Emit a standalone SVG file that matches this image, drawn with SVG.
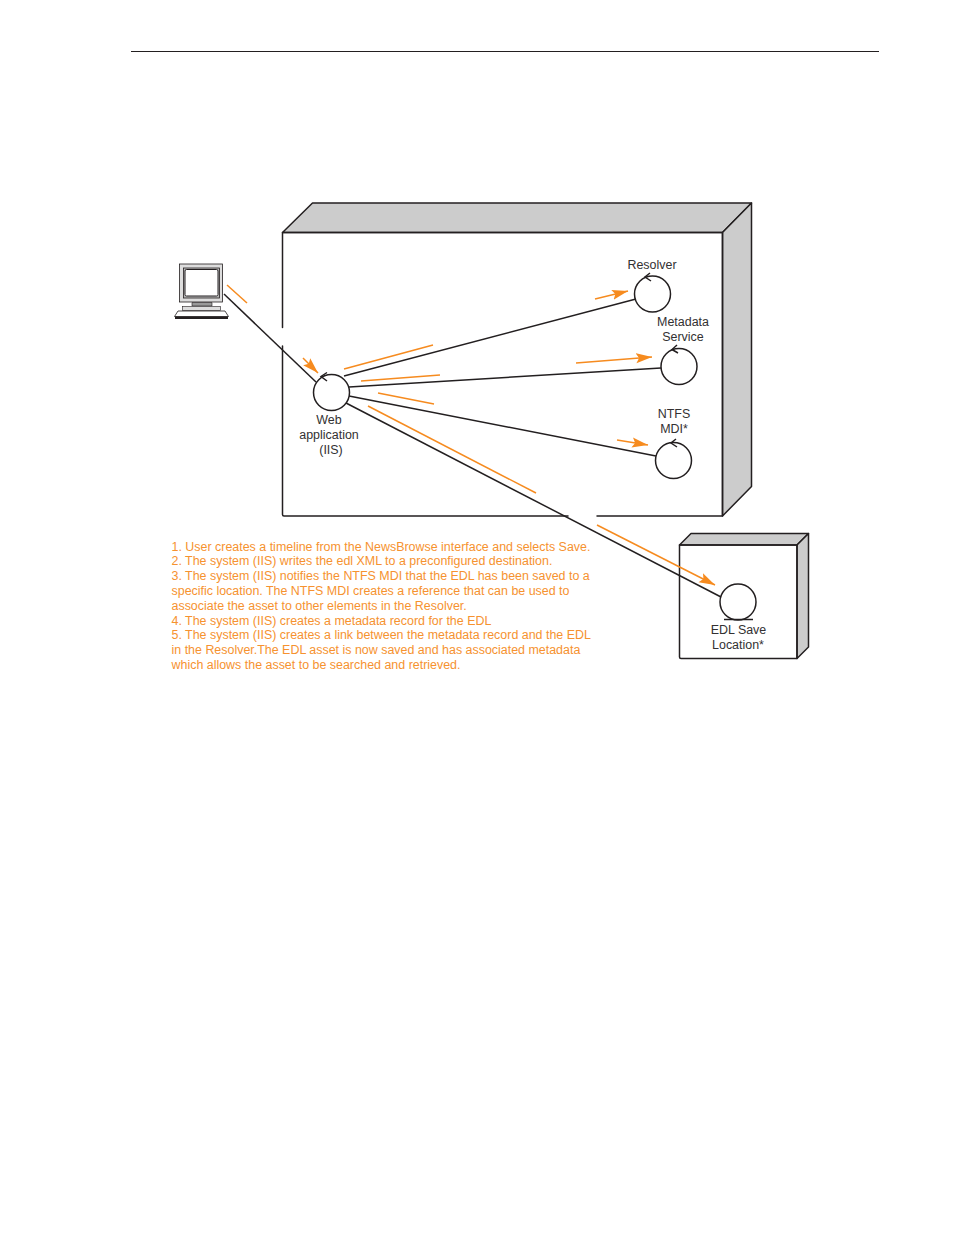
<svg xmlns="http://www.w3.org/2000/svg" width="954" height="1235" viewBox="0 0 954 1235">
<defs>
<marker id="oa" viewBox="0 0 16 11" refX="16" refY="5.500" markerWidth="16" markerHeight="11" markerUnits="userSpaceOnUse" orient="auto"><path d="M0 0.500L16 5.500L0 10.500L3 5.500Z" fill="#f68b1f"/></marker>
</defs>
<style>
text{font-family:"Liberation Sans",Arial,sans-serif;font-size:12.44px}
.l{fill:#333132;text-anchor:middle}
.n{fill:#f6922f}
.b{fill:none;stroke:#231f20;stroke-width:1.5;stroke-linejoin:round;stroke-linecap:round}
.g{fill:#cccccc;stroke:#231f20;stroke-width:1.5;stroke-linejoin:round}
.c{fill:#fff;stroke:#231f20;stroke-width:1.5}
.k{fill:none;stroke:#231f20;stroke-width:1.5}
.o{fill:none;stroke:#f68b1f;stroke-width:1.5}
.a{fill:none;stroke:#f68b1f;stroke-width:1.5;marker-end:url(#oa)}
</style>
<rect width="954" height="1235" fill="#fff"/>
<path d="M131 51.500H879" stroke="#231f20" stroke-width="1" fill="none"/>
<g id="server">
<path class="g" d="M282.500 232.500L312.500 203H751.500L722.500 232.500Z"/>
<path class="g" d="M722.500 232.500L751.500 203V486.500L722.500 516Z"/>
<path class="b" d="M282.500 327.500V232.500H722.500V516H597M568 516H284Q282.500 516 282.500 514.500V346"/>
</g>
<g id="storage">
<path class="g" d="M679.500 545L691 533.500H808.500L797 545Z"/>
<path class="g" d="M797 545L808.500 533.500V647L797 658.500Z"/>
<path class="b" d="M679.500 545H797V658.500H681Q679.500 658.500 679.500 657Z"/>
</g>
<g id="connectors">
<path class="k" d="M224 294L316 382"/>
<path class="k" d="M344 376L636 299"/>
<path class="k" d="M349 387L661 368"/>
<path class="k" d="M349 396L656 456"/>
<path class="k" d="M346 403L721 597"/>
<path class="o" d="M227 285L247 303"/>
<path class="a" d="M303 358L318 373"/>
<path class="o" d="M344 369L433 345"/>
<path class="o" d="M361 381L440 375"/>
<path class="o" d="M378 393L434 404"/>
<path class="o" d="M368 406L536 493"/>
<path class="a" d="M595 299L628 291"/>
<path class="a" d="M576 363L652 357"/>
<path class="a" d="M617 440L648 445"/>
<path class="a" d="M597 525L715 585"/>
</g>
<g id="workstation">
<rect x="179.500" y="264" width="43" height="38" fill="#ddd" stroke="#231f20" stroke-width="0.8"/>
<rect x="183.500" y="268" width="36" height="30" fill="#bbb" stroke="#231f20" stroke-width="0.8"/>
<rect x="185" y="269.500" width="33" height="26.500" rx="1.500" fill="#fff" stroke="#231f20" stroke-width="1"/>
<path d="M192 302.500H212V306H192Z" fill="#999" stroke="#231f20" stroke-width="0.6"/>
<rect x="182.500" y="306.500" width="38" height="4" fill="#ddd" stroke="#231f20" stroke-width="0.6"/>
<path d="M178 311H225L228.500 316.500H174.500Z" fill="#fff" stroke="#231f20" stroke-width="0.8"/>
<rect x="175" y="316.500" width="53" height="2.500" fill="#231f20"/>
</g>
<g id="web-application">
<circle class="c" cx="331.500" cy="392.500" r="18"/>
<path class="k" d="M327 372.500L321 376.500L327 381"/>
<text class="l" x="329" y="424">Web</text>
<text class="l" x="329" y="439">application</text>
<text class="l" x="331" y="454">(IIS)</text>
</g>
<g id="resolver">
<circle class="c" cx="652.500" cy="294" r="18"/>
<path class="k" d="M650 273L645 277L651 281"/>
<text class="l" x="652" y="269">Resolver</text>
</g>
<g id="metadata-service">
<circle class="c" cx="679" cy="366.500" r="18"/>
<path class="k" d="M677 345L672 349.500L678 353"/>
<text class="l" x="683" y="326">Metadata</text>
<text class="l" x="683" y="341">Service</text>
</g>
<g id="ntfs-mdi">
<circle class="c" cx="673.500" cy="460.500" r="18"/>
<path class="k" d="M676 439L671 443L677 447"/>
<text class="l" x="674" y="418">NTFS</text>
<text class="l" x="674" y="433">MDI*</text>
</g>
<g id="edl-save-location">
<circle class="c" cx="738" cy="602" r="18"/>
<path class="k" d="M724 619.500H753"/>
<text class="l" x="738.500" y="634">EDL Save</text>
<text class="l" x="738" y="649">Location*</text>
</g>
<g id="notes">
<text class="n" x="171.500" y="551">1. User creates a timeline from the NewsBrowse interface and selects Save.</text>
<text class="n" x="171.500" y="565">2. The system (IIS) writes the edl XML to a preconfigured destination.</text>
<text class="n" x="171.500" y="580">3. The system (IIS) notifies the NTFS MDI that the EDL has been saved to a</text>
<text class="n" x="171.500" y="595">specific location. The NTFS MDI creates a reference that can be used to</text>
<text class="n" x="171.500" y="610">associate the asset to other elements in the Resolver.</text>
<text class="n" x="171.500" y="625">4. The system (IIS) creates a metadata record for the EDL</text>
<text class="n" x="171.500" y="639">5. The system (IIS) creates a link between the metadata record and the EDL</text>
<text class="n" x="171.500" y="654">in the Resolver.The EDL asset is now saved and has associated metadata</text>
<text class="n" x="171.500" y="669">which allows the asset to be searched and retrieved.</text>
</g>
</svg>
